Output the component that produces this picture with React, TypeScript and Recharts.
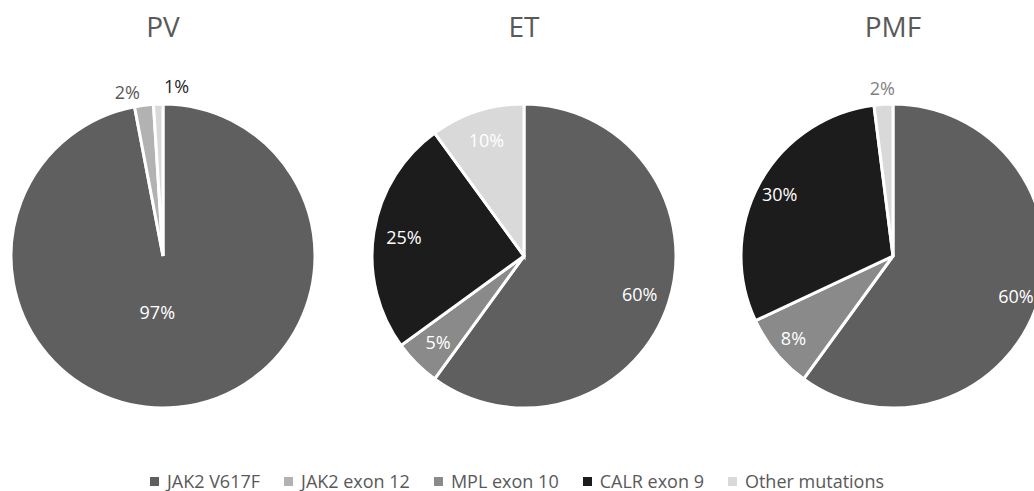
import React from 'react';
import { PieChart, Pie, Cell, Legend } from 'recharts';

// mutation categories, in legend order
const mutationTypes = ['JAK2 V617F', 'JAK2 exon 12', 'MPL exon 10', 'CALR exon 9', 'Other mutations'];

// percentages per disease, same order as mutationTypes
const pvValues = [97, 2, 0, 0, 1];
const etValues = [60, 0, 5, 25, 10];
const pmfValues = [60, 0, 8, 30, 2];

const chartTitles = ['PV', 'ET', 'PMF'];

const mutationColors = ['#5f5f5f', '#b2b2b2', '#8a8a8a', '#1c1c1c', '#d9d9d9'];

const FONT = '"Open Sans", "Noto Sans", sans-serif';
const WIDTH = 1034;
const HEIGHT = 491;
const RADIUS = 152;
const CY = 256;

type LabelTweak = { radius?: number; dx?: number; fill?: string };

// where each chart puts its percentage labels (fraction of radius), plus tweaks
const pieLayout = [
  {
    cx: 163,
    labelRadius: 0.37,
    tweaks: {
      'JAK2 V617F': { dx: -11 },
      'JAK2 exon 12': { radius: 1.09, dx: -15, fill: '#595959' },
      'Other mutations': { radius: 1.12, dx: 19, fill: '#262626' },
    } as Record<string, LabelTweak>,
  },
  { cx: 524, labelRadius: 0.8, tweaks: {} as Record<string, LabelTweak> },
  {
    cx: 893,
    labelRadius: 0.85,
    tweaks: {
      'Other mutations': { radius: 1.11, fill: '#7f7f7f' },
    } as Record<string, LabelTweak>,
  },
];

const RAD = Math.PI / 180;

function buildData(values: number[]) {
  return mutationTypes
    .map((name, i) => ({ name, value: values[i], color: mutationColors[i] }))
    .filter((d) => d.value > 0);
}

const makeLabel = (layout: (typeof pieLayout)[number]) => (props: any) => {
  const { cx, cy, midAngle, outerRadius, value } = props;
  const name = props.payload?.name ?? props.name;
  const tweak = layout.tweaks[name] || {};
  const r = outerRadius * (tweak.radius ?? layout.labelRadius);
  const x = cx + r * Math.cos(-midAngle * RAD) + (tweak.dx ?? 0);
  const y = cy + r * Math.sin(-midAngle * RAD);
  return (
    <text
      x={x}
      y={y}
      fill={tweak.fill ?? '#ffffff'}
      textAnchor="middle"
      dominantBaseline="central"
      fontFamily={FONT}
      fontSize={18}
    >
      {`${value}%`}
    </text>
  );
};

function LegendContent() {
  return (
    <div
      style={{
        display: 'flex',
        justifyContent: 'center',
        alignItems: 'center',
        fontFamily: FONT,
        fontSize: 18,
        color: '#595959',
      }}
    >
      {mutationTypes.map((name, i) => (
        <div key={name} style={{ display: 'flex', alignItems: 'center', marginLeft: i === 0 ? 0 : 24 }}>
          <span
            style={{ display: 'inline-block', width: 9, height: 9, background: mutationColors[i], marginRight: 8 }}
          />
          <span>{name}</span>
        </div>
      ))}
    </div>
  );
}

export default function App() {
  const datasets = [pvValues, etValues, pmfValues].map(buildData);

  return (
    <div style={{ position: 'absolute', left: 0, top: 0, width: WIDTH, height: HEIGHT, background: '#fff' }}>
      <PieChart width={WIDTH} height={HEIGHT} margin={{ top: 0, right: 0, bottom: 0, left: 0 }}>
        {chartTitles.map((title, i) => (
          <text
            key={title}
            x={pieLayout[i].cx}
            y={37}
            textAnchor="middle"
            fontFamily={FONT}
            fontSize={28}
            fill="#595959"
          >
            {title}
          </text>
        ))}
        {datasets.map((data, i) => (
          <Pie
            key={chartTitles[i]}
            data={data}
            dataKey="value"
            nameKey="name"
            cx={pieLayout[i].cx}
            cy={CY}
            outerRadius={RADIUS}
            startAngle={90}
            endAngle={-270}
            stroke="#ffffff"
            strokeWidth={3}
            label={makeLabel(pieLayout[i])}
            labelLine={false}
            isAnimationActive={false}
            legendType="none"
          >
            {data.map((d) => (
              <Cell key={d.name} fill={d.color} />
            ))}
          </Pie>
        ))}
        <Legend
          verticalAlign="bottom"
          content={() => <LegendContent />}
          wrapperStyle={{ left: 0, width: WIDTH, bottom: 0, height: 22 }}
        />
      </PieChart>
    </div>
  );
}
